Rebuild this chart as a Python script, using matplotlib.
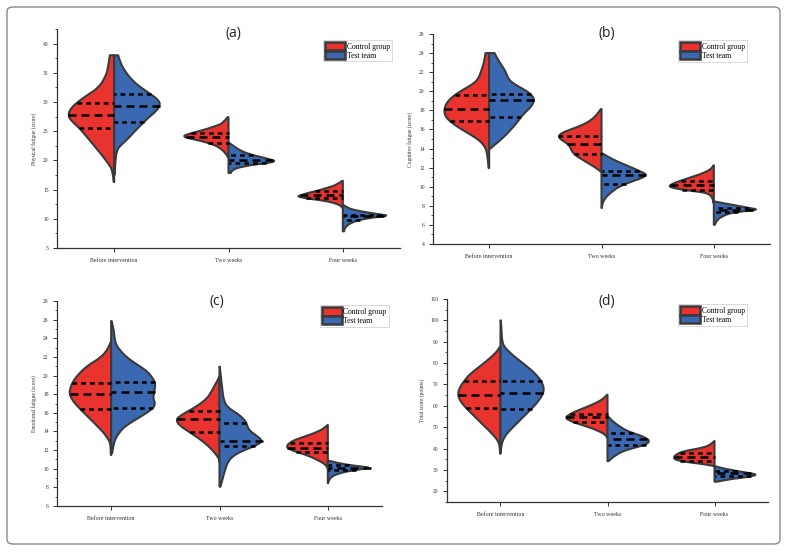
import numpy as np
import matplotlib
matplotlib.use("Agg")
import matplotlib.pyplot as plt
from matplotlib.patches import Patch, PathPatch, FancyBboxPatch
from matplotlib.path import Path
from matplotlib.ticker import MultipleLocator

plt.rcParams['font.family'] = ['Liberation Serif', 'DejaVu Serif']

categories = ["Before intervention", "Two weeks", "Four weeks"]
groups = ["Control group", "Test team"]

# ---------------- (a) Physical fatigue: density profiles (value, half-width) ----------------
phys_ctrl_y = [
    [38.0, 35.8, 34.1, 32.4, 31.3, 30.1, 29.0, 27.7, 26.7, 25.6, 24.4, 22.7, 21.0, 19.3, 18.4, 16.3],
    [27.4, 26.4, 25.85, 25.3, 24.7, 24.3, 24.1, 23.85, 23.3, 22.7, 22.1, 21.3, 20.55],
    [16.5, 15.85, 15.3, 14.8, 14.4, 14.0, 13.85, 13.55, 13.3, 13.0, 12.55, 12.15, 11.85],
]
phys_ctrl_w = [
    [0.038, 0.052, 0.081, 0.14, 0.226, 0.313, 0.377, 0.406, 0.371, 0.307, 0.255, 0.183, 0.11, 0.046, 0.017, 0.004],
    [0.01, 0.043, 0.116, 0.203, 0.319, 0.383, 0.39, 0.362, 0.232, 0.13, 0.072, 0.029, 0.004],
    [0.005, 0.049, 0.136, 0.223, 0.31, 0.374, 0.397, 0.339, 0.238, 0.136, 0.049, 0.014, 0.003],
]
phys_test_y = [
    [38.0, 36.98, 35.27, 33.56, 32.41, 31.27, 30.41, 29.55, 28.42, 27.27, 26.12, 24.99, 23.84, 22.7, 21.84, 19.85, 17.56],
    [23.0, 22.7, 21.85, 21.1, 20.55, 20.1, 19.85, 19.55, 19.3, 19.0, 18.7, 18.25, 17.85],
    [12.4, 11.85, 11.4, 11.0, 10.7, 10.55, 10.25, 9.85, 9.3, 8.55, 7.85],
]
phys_test_w = [
    [0.035, 0.049, 0.093, 0.165, 0.238, 0.325, 0.383, 0.406, 0.368, 0.296, 0.238, 0.18, 0.128, 0.064, 0.023, 0.010, 0.005],
    [0.004, 0.029, 0.087, 0.174, 0.29, 0.377, 0.41, 0.348, 0.232, 0.145, 0.072, 0.03, 0.02],
    [0.003, 0.038, 0.125, 0.241, 0.342, 0.40, 0.27, 0.154, 0.067, 0.02, 0.01],
]
phys_ctrl_quart = [[25.6, 27.7, 29.9], [23.0, 23.95, 24.65], [13.5, 14.0, 14.7]]
phys_test_quart = [[26.6, 29.4, 31.3], [19.5, 20.0, 20.9], [9.85, 10.45, 10.7]]

# ---------------- (b) Cognitive fatigue ----------------
cog_ctrl_y = [
    [24.0, 23.14, 22.09, 21.39, 20.87, 20.34, 19.82, 19.29, 18.77, 18.25, 17.72, 17.2, 16.68, 16.15, 15.63, 15.1, 14.58, 14.06, 13.53, 11.96],
    [18.14, 17.9, 17.55, 17.02, 16.5, 15.97, 15.63, 15.28, 14.93, 14.58, 14.23, 13.71, 13.19, 12.66, 12.14, 11.78, 11.54],
    [12.24, 11.96, 11.61, 11.26, 10.91, 10.56, 10.21, 9.97, 9.69, 9.52, 9.34, 9.0, 8.64, 8.29],
]
cog_ctrl_w = [
    [0.033, 0.042, 0.072, 0.093, 0.131, 0.206, 0.281, 0.34, 0.379, 0.397, 0.40, 0.379, 0.331, 0.265, 0.191, 0.116, 0.063, 0.033, 0.018, 0.005],
    [0.005, 0.021, 0.042, 0.087, 0.161, 0.281, 0.355, 0.385, 0.361, 0.31, 0.281, 0.266, 0.221, 0.146, 0.072, 0.027, 0.003],
    [0.003, 0.015, 0.06, 0.134, 0.224, 0.313, 0.388, 0.397, 0.284, 0.164, 0.06, 0.021, 0.009, 0.003],
]
cog_test_y = [
    [24.0, 23.49, 22.79, 22.09, 21.39, 20.87, 20.34, 19.82, 19.29, 18.95, 18.42, 17.9, 17.38, 16.85, 16.15, 15.45, 14.76, 14.23, 13.98],
    [13.53, 13.19, 12.66, 12.14, 11.61, 11.26, 10.91, 10.56, 10.21, 9.87, 9.34, 8.82, 8.29, 7.77],
    [8.47, 8.29, 8.05, 7.77, 7.6, 7.42, 7.25, 6.9, 6.54, 6.02],
]
cog_test_w = [
    [0.048, 0.069, 0.107, 0.146, 0.167, 0.206, 0.287, 0.361, 0.397, 0.40, 0.376, 0.331, 0.287, 0.257, 0.206, 0.152, 0.087, 0.033, 0.009],
    [0.003, 0.048, 0.137, 0.242, 0.346, 0.406, 0.361, 0.272, 0.197, 0.137, 0.078, 0.033, 0.009, 0.003],
    [0.003, 0.075, 0.194, 0.313, 0.403, 0.254, 0.149, 0.075, 0.03, 0.009],
]
cog_ctrl_quart = [[16.85, 18.1, 19.58], [13.43, 14.51, 15.28], [9.69, 10.21, 10.63]]
cog_test_quart = [[17.27, 19.12, 19.71], [10.31, 11.19, 11.68], [7.35, 7.53, 7.77]]

# ---------------- (c) Emotional fatigue ----------------
emo_ctrl_y = [
    [23.63, 23.28, 22.56, 21.85, 21.31, 20.78, 20.06, 19.34, 18.63, 18.09, 17.56, 16.84, 16.12, 15.41, 14.69, 13.97, 13.26, 12.72, 11.47],
    [19.88, 19.52, 18.99, 18.27, 17.56, 16.84, 16.12, 15.59, 15.23, 14.69, 13.97, 13.26, 12.55, 11.83, 11.12, 10.76],
    [14.69, 14.34, 13.97, 13.62, 13.26, 12.9, 12.37, 12.01, 11.66, 11.29, 10.76, 10.4, 10.04],
]
emo_ctrl_w = [
    [0.003, 0.015, 0.046, 0.108, 0.185, 0.246, 0.308, 0.354, 0.378, 0.385, 0.369, 0.323, 0.262, 0.20, 0.138, 0.077, 0.031, 0.006, 0.003],
    [0.003, 0.015, 0.043, 0.074, 0.114, 0.191, 0.298, 0.375, 0.40, 0.375, 0.283, 0.191, 0.114, 0.052, 0.006, 0.002],
    [0.003, 0.034, 0.095, 0.172, 0.265, 0.342, 0.388, 0.342, 0.249, 0.157, 0.065, 0.018, 0.002],
]
emo_test_y = [
    [25.85, 25.07, 24.0, 23.28, 22.56, 21.85, 21.13, 20.41, 19.7, 19.17, 18.27, 17.56, 17.02, 16.48, 15.95, 15.41, 14.87, 14.34, 13.8, 13.26, 12.55, 11.66],
    [20.95, 19.88, 18.63, 17.2, 16.48, 15.95, 15.23, 14.69, 14.16, 13.62, 13.01, 12.55, 12.19, 11.83, 11.29, 10.76, 10.04, 9.14, 8.07],
    [10.87, 10.58, 10.4, 10.22, 10.11, 9.97, 9.76, 9.51, 9.14, 8.61, 8.44],
]
emo_test_w = [
    [0.003, 0.022, 0.031, 0.046, 0.092, 0.154, 0.246, 0.338, 0.385, 0.409, 0.40, 0.385, 0.409, 0.385, 0.323, 0.246, 0.169, 0.108, 0.071, 0.04, 0.022, 0.009],
    [0.003, 0.012, 0.025, 0.04, 0.086, 0.163, 0.234, 0.255, 0.271, 0.332, 0.40, 0.348, 0.271, 0.194, 0.117, 0.08, 0.055, 0.034, 0.009],
    [0.003, 0.105, 0.197, 0.32, 0.397, 0.32, 0.197, 0.105, 0.028, 0.006, 0.002],
]
emo_ctrl_quart = [[16.37, 18.06, 19.24], [13.9, 15.3, 16.23], [11.83, 12.26, 12.8]]
emo_test_quart = [[16.48, 18.27, 19.28], [12.44, 13.01, 14.87], [9.86, 10.11, 10.4]]

# ---------------- (d) Total score ----------------
tot_ctrl_y = [
    [87.75, 86.2, 83.9, 80.8, 77.7, 74.6, 71.4, 68.35, 65.2, 62.1, 59.0, 55.9, 52.8, 49.7, 46.6, 44.2, 41.9, 37.6],
    [65.2, 63.7, 62.1, 60.6, 59.0, 57.45, 55.9, 54.35, 52.8, 51.2, 49.7, 48.1, 46.6, 45.0],
    [43.5, 41.9, 40.35, 38.8, 37.25, 35.7, 34.6, 33.65, 32.9, 32.1, 31.65],
]
tot_ctrl_w = [
    [0.003, 0.022, 0.063, 0.134, 0.213, 0.291, 0.344, 0.384, 0.40, 0.375, 0.322, 0.259, 0.197, 0.134, 0.072, 0.031, 0.009, 0.003],
    [0.003, 0.031, 0.078, 0.141, 0.219, 0.297, 0.359, 0.397, 0.344, 0.25, 0.156, 0.078, 0.022, 0.002],
    [0.003, 0.031, 0.109, 0.29, 0.36, 0.384, 0.36, 0.25, 0.13, 0.03, 0.002],
]
tot_test_y = [
    [100.0, 96.3, 91.7, 88.55, 87.0, 83.9, 80.8, 77.7, 74.6, 71.4, 68.35, 66.0, 63.7, 60.6, 57.45, 54.35, 51.2, 48.1, 45.0, 41.9, 38.0],
    [55.1, 52.8, 50.45, 48.1, 46.6, 45.0, 43.5, 41.9, 40.35, 38.8, 36.45, 34.1],
    [31.8, 31.0, 29.8, 28.7, 27.8, 26.65, 25.9, 25.1, 24.5],
]
tot_test_w = [
    [0.003, 0.009, 0.012, 0.025, 0.047, 0.109, 0.188, 0.266, 0.334, 0.384, 0.406, 0.40, 0.375, 0.328, 0.266, 0.203, 0.141, 0.078, 0.031, 0.009, 0.002],
    [0.003, 0.047, 0.109, 0.188, 0.281, 0.359, 0.397, 0.359, 0.25, 0.141, 0.063, 0.009],
    [0.003, 0.053, 0.178, 0.303, 0.41, 0.303, 0.178, 0.084, 0.02],
]
tot_ctrl_quart = [[59.0, 65.2, 71.4], [52.5, 54.8, 56.0], [34.3, 35.9, 38.0]]
tot_test_quart = [[58.7, 65.8, 71.4], [41.9, 44.7, 47.35], [27.1, 28.4, 29.5]]

panel_titles = ["(a)", "(b)", "(c)", "(d)"]
y_labels = ["Physical fatigue (score)", "Cognitive fatigue (score)",
            "Emotional fatigue (score)", "Total score (points)"]
y_limits = [(5, 42.5), (4, 26), (6, 28), (15, 110)]
y_major = [5, 2, 2, 10]
y_minor = [2.5, 1, 1, 5]

RED = "#E8332F"
BLUE = "#3A69B2"
EDGE = "#3a3a3a"


def half_path(x0, ys, ws, side):
    ys = np.asarray(ys, float)
    ws = np.asarray(ws, float)
    edge = np.column_stack([x0 + side * ws, ys])
    verts = [(x0, ys[0]), tuple(edge[0])]
    codes = [Path.MOVETO, Path.LINETO]
    for i in range(1, len(edge) - 1):
        mid = (edge[i] + edge[i + 1]) / 2
        verts += [tuple(edge[i]), tuple(mid)]
        codes += [Path.CURVE3, Path.CURVE3]
    verts += [tuple(edge[-1]), (x0, ys[-1]), (x0, ys[0])]
    codes += [Path.LINETO, Path.LINETO, Path.CLOSEPOLY]
    return Path(verts, codes)


def draw_panel(ax, ctrl_y, ctrl_w, test_y, test_w, ctrl_q, test_q):
    for i in range(len(categories)):
        for ys, ws, qs, side, col in [(ctrl_y[i], ctrl_w[i], ctrl_q[i], -1, RED),
                                      (test_y[i], test_w[i], test_q[i], 1, BLUE)]:
            p = PathPatch(half_path(i, ys, ws, side), facecolor=col, edgecolor=EDGE,
                          lw=1.5, joinstyle='round', zorder=2)
            ax.add_patch(p)
            yr = np.asarray(ys)[::-1]
            wr = np.asarray(ws)[::-1]
            for k, q in enumerate(qs):
                wq = np.interp(q, yr, wr)
                if k == 1:
                    ls = (0, (3.2, 2.0))
                else:
                    ls = (0, (1.9, 1.6))
                ax.plot([i + side * wq, i], [q, q], color='black', lw=1.8,
                        ls=ls, solid_capstyle='butt', dash_capstyle='butt', zorder=3)


fig = plt.figure(figsize=(7.87, 5.52), dpi=100)
W, H = 787.0, 552.0
boxes = [(57, 400, 29, 248), (433, 770, 34, 244), (57, 382, 301, 506), (447, 768, 299, 502)]
title_px = [(233, 33), (607, 33), (217, 302), (607, 301)]
legend_anchor = [(0.977, 0.95), (0.932, 0.971), (1.02, 0.98), (0.935, 0.975)]
data = [
    (phys_ctrl_y, phys_ctrl_w, phys_test_y, phys_test_w, phys_ctrl_quart, phys_test_quart),
    (cog_ctrl_y, cog_ctrl_w, cog_test_y, cog_test_w, cog_ctrl_quart, cog_test_quart),
    (emo_ctrl_y, emo_ctrl_w, emo_test_y, emo_test_w, emo_ctrl_quart, emo_test_quart),
    (tot_ctrl_y, tot_ctrl_w, tot_test_y, tot_test_w, tot_ctrl_quart, tot_test_quart),
]

for k in range(4):
    l, r, t, b = boxes[k]
    ax = fig.add_axes([l / W, 1 - b / H, (r - l) / W, (b - t) / H])
    draw_panel(ax, *data[k])
    ax.set_xlim(-0.5, 2.5)
    ax.set_ylim(*y_limits[k])
    ax.set_xticks(range(len(categories)))
    ax.set_xticklabels(categories, fontsize=4.3)
    ax.yaxis.set_major_locator(MultipleLocator(y_major[k]))
    ax.yaxis.set_minor_locator(MultipleLocator(y_minor[k]))
    ax.tick_params(axis='y', which='major', labelsize=4, length=3, width=0.7, pad=3, colors='#333')
    ax.tick_params(axis='y', which='minor', length=1.6, width=0.6, colors='#333')
    ax.tick_params(axis='x', which='major', length=3, width=0.7, pad=4, colors='#333')
    for s in ['top', 'right']:
        ax.spines[s].set_visible(False)
    for s in ['left', 'bottom']:
        ax.spines[s].set_linewidth(0.9)
        ax.spines[s].set_color('#333')
    ax.set_ylabel(y_labels[k], fontsize=4, labelpad=4, color='#333')
    tx, ty = title_px[k]
    fig.text(tx / W, 1 - ty / H, panel_titles[k], ha='center', va='center',
             fontsize=10, family=['Open Sans', 'DejaVu Sans'], color='#222')
    handles = [Patch(facecolor=RED, edgecolor=EDGE, lw=1.8),
               Patch(facecolor=BLUE, edgecolor=EDGE, lw=1.8)]
    leg = ax.legend(handles, groups, loc='upper right', bbox_to_anchor=legend_anchor[k],
                    fontsize=5.5, frameon=True, fancybox=False, handlelength=2.6,
                    handleheight=1.35, labelspacing=0.0, handletextpad=0.25,
                    borderpad=0.25, borderaxespad=0.0)
    leg.get_frame().set_edgecolor('#c8c8c8')
    leg.get_frame().set_linewidth(0.6)

border = FancyBboxPatch((7 / W, 1 - 544 / H), 773 / W, 537 / H,
                        boxstyle='round,pad=0,rounding_size=0.008',
                        transform=fig.transFigure, fill=False, ec='#8a8a8a', lw=1.0)
fig.patches.append(border)

fig.savefig("out.png", dpi=100, facecolor='white')
